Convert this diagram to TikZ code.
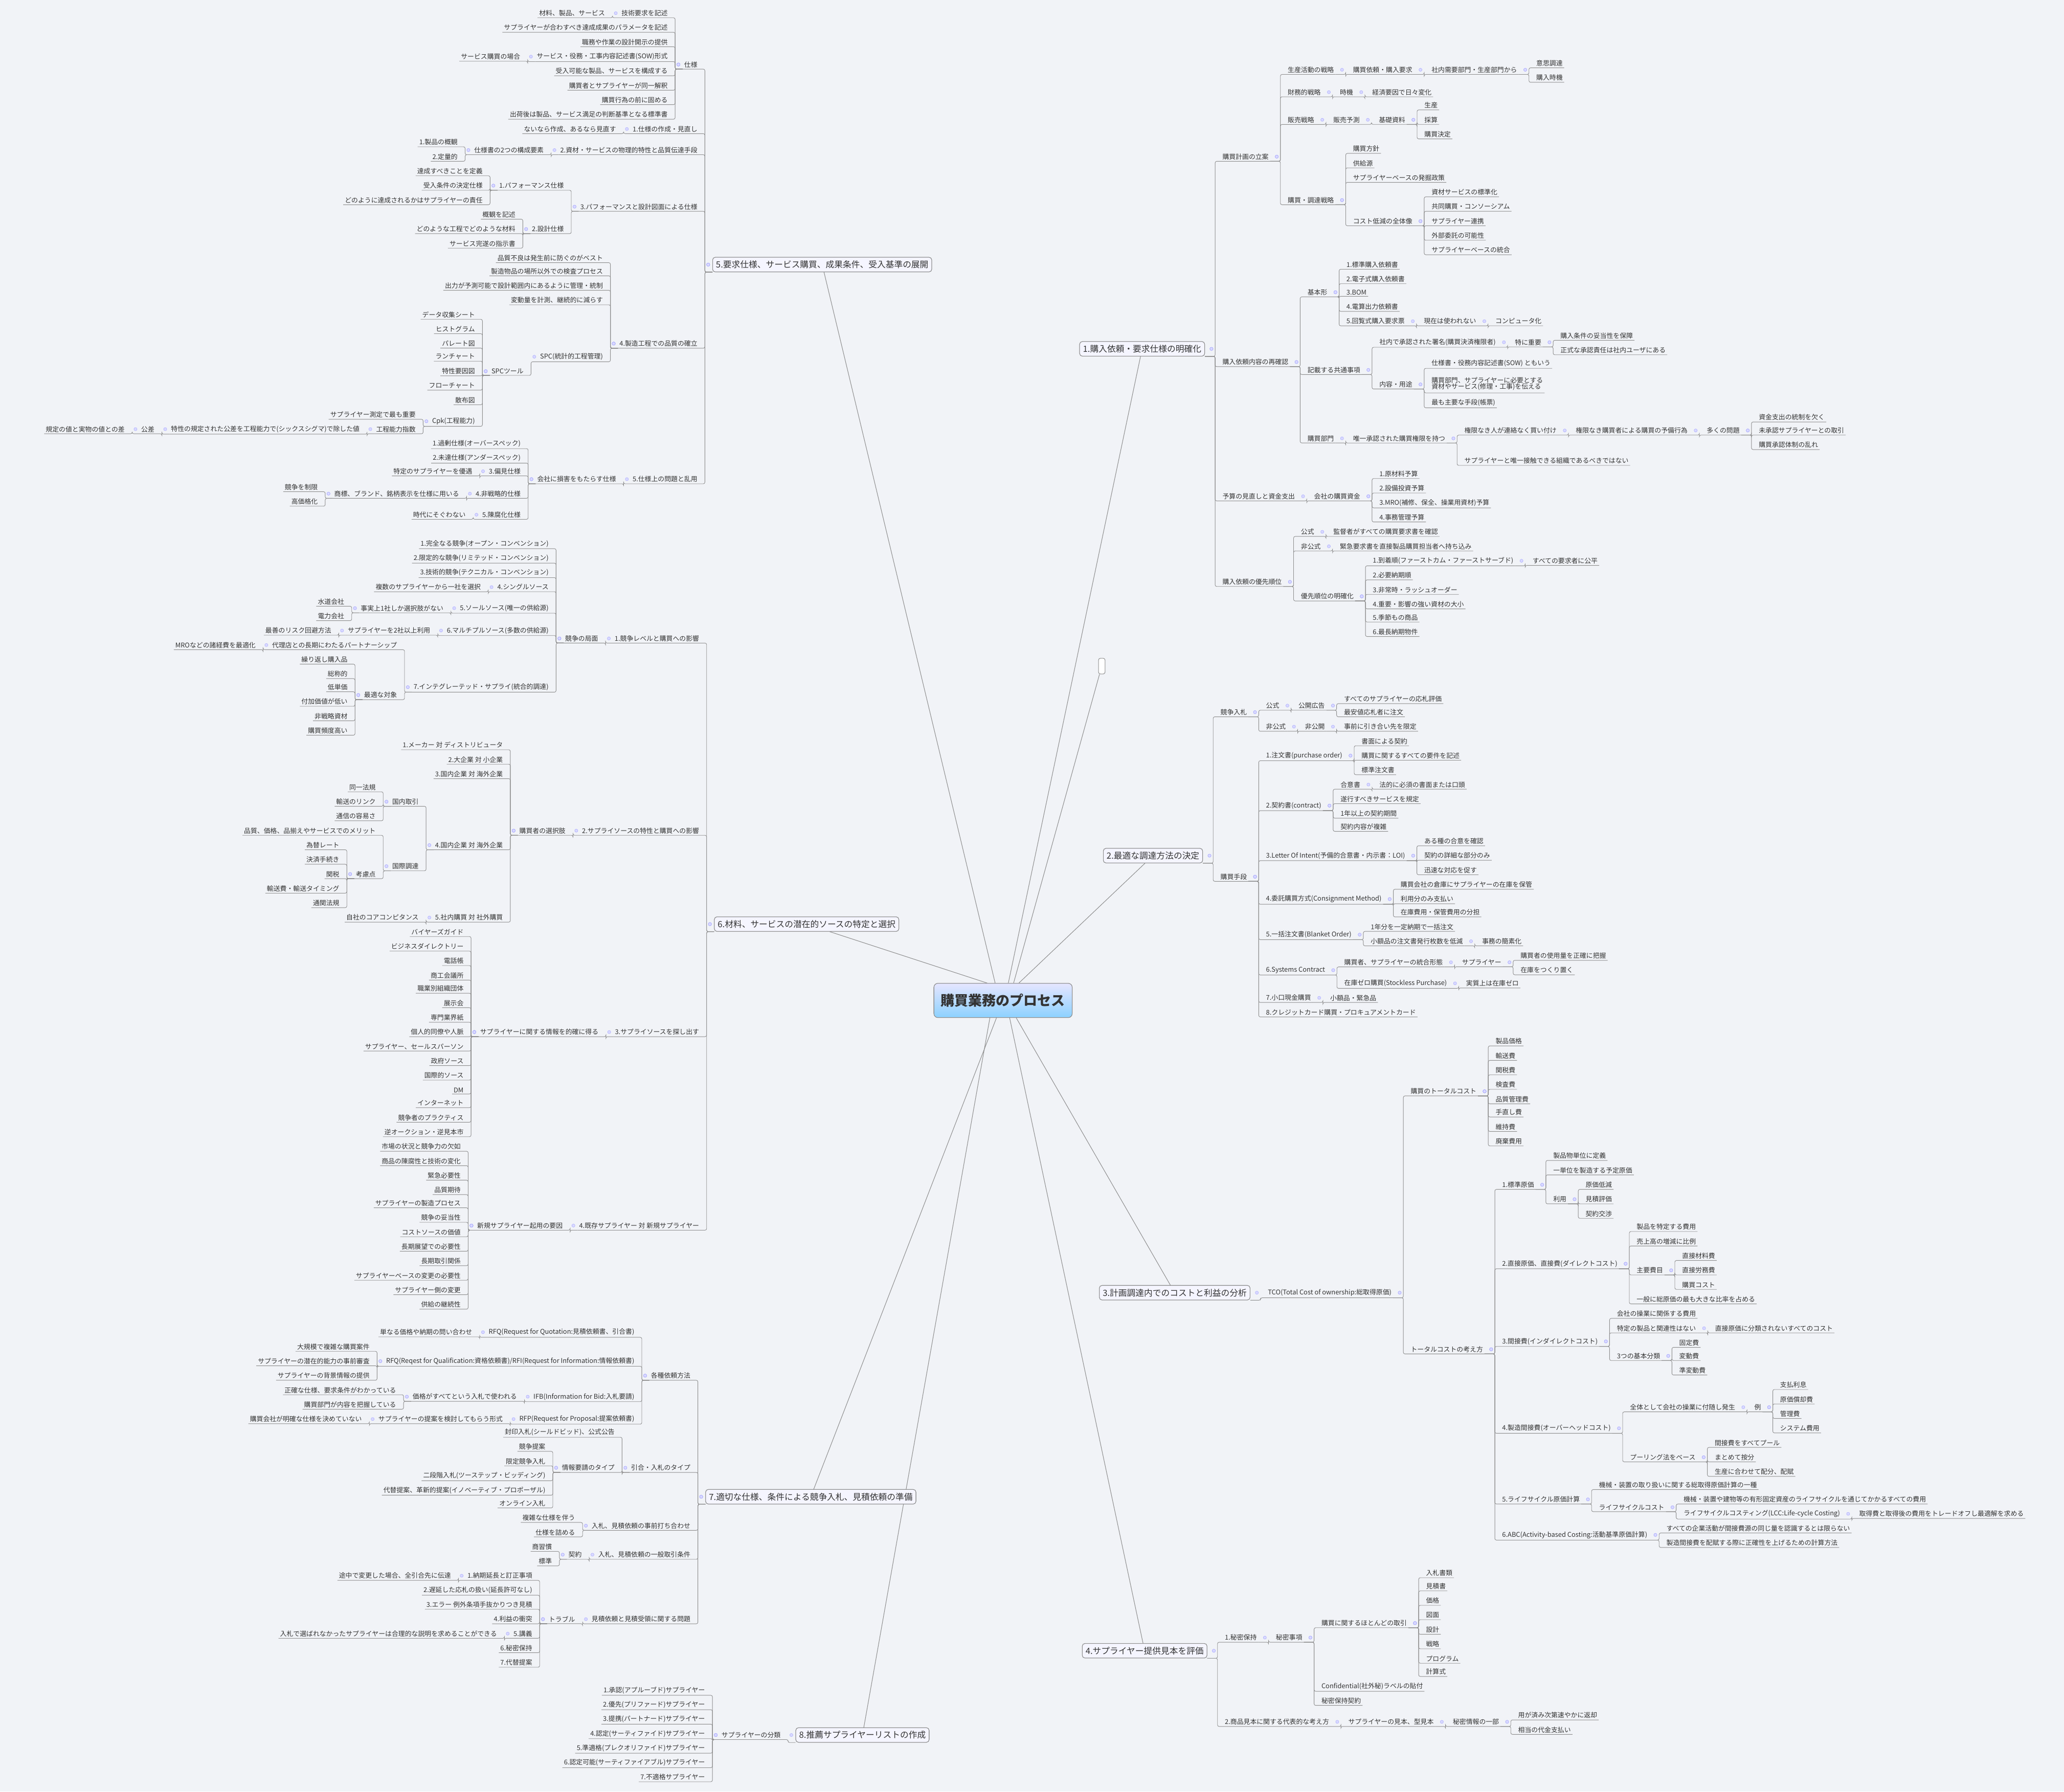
\documentclass[tikz,border=0pt]{standalone}
\usepackage{fontspec}
\setmainfont{Noto Sans CJK JP}
\usetikzlibrary{calc}
\definecolor{bgc}{HTML}{F1F3F7}
\definecolor{lnc}{HTML}{8C8C8C}
\definecolor{txc}{HTML}{333333}
\tikzset{
 nd/.style={inner xsep=1pt,inner ysep=1pt,font=\fontsize{5}{6}\selectfont,text=txc},
 cn/.style={draw=lnc,line width=0.35pt,rounded corners=1.2pt},
 icn/.style={fill=blue!15,draw=blue!35,line width=0.2pt},
 br/.style={draw=lnc,rounded corners=2pt,fill=white!96!blue,inner sep=2.5pt,font=\fontsize{6.5}{7.5}\selectfont,text=txc},
 mainl/.style={draw=lnc,line width=0.4pt}
}
\newcommand\RX[4]{%
 \coordinate (tmpY) at (0,#3);
 \path (#1.east) ++(12.2,0) coordinate (tmpA);
 \node[nd,anchor=west] (#2) at (tmpA |- tmpY) {#4};
 \path (#1.south east) ++(7.8,0) coordinate (tmpB);
 \draw[cn] (#2.south east) -- (#2.south west) -- (#2.south west -| tmpB) -- (tmpB) -- (#1.south east);
 \filldraw[icn] ($(#1.east)+(5,0)$) circle (1.2pt);}
\newcommand\LX[4]{%
 \coordinate (tmpY) at (0,#3);
 \path (#1.west) ++(-10.2,0) coordinate (tmpA);
 \node[nd,anchor=east] (#2) at (tmpA |- tmpY) {#4};
 \path (#1.south west) ++(-5.7,0) coordinate (tmpB);
 \draw[cn] (#2.south west) -- (#2.south east) -- (#2.south east -| tmpB) -- (tmpB) -- (#1.south west);
 \filldraw[icn] ($(#1.west)+(-3.2,0)$) circle (1.2pt);}
\begin{document}
\begin{tikzpicture}[x=1pt,y=-1pt]
\fill[bgc] (0,0) rectangle (1568,1361);
\useasboundingbox (0,0) rectangle (1568,1361);
% root
\node[draw=lnc,rounded corners=3pt,top color=blue!10,bottom color=blue!40!cyan!45,minimum width=105pt,minimum height=26pt,font=\fontsize{10.5}{12}\selectfont\bfseries,text=txc] (root) at (762,760) {購買業務のプロセス};
% main branches
\node[br,anchor=west] (b1) at (820,265) {1.購入依頼・要求仕様の明確化};
\node[draw=lnc,rounded corners=1.5pt,fill=white,minimum width=5pt,minimum height=12pt,inner sep=0pt] (be) at (837,506) {};
\node[br,anchor=west] (b2) at (838,650) {2.最適な調達方法の決定};
\node[br,anchor=west] (b3) at (835,982) {3.計画調達内でのコストと利益の分析};
\node[br,anchor=west] (b4) at (822,1254) {4.サプライヤー提供見本を評価};
\node[br,anchor=east] (b5) at (708,201) {5.要求仕様、サービス購買、成果条件、受入基準の展開};
\node[br,anchor=east] (b6) at (683,702) {6.材料、サービスの潜在的ソースの特定と選択};
\node[br,anchor=east] (b7) at (696,1137) {7.適切な仕様、条件による競争入札、見積依頼の準備};
\node[br,anchor=east] (b8) at (706,1318) {8.推薦サプライヤーリストの作成};
\foreach \b/\s in {b1/4,be/8,b2/12,b5/-6,b6/-12}{\draw[mainl] ($(root.north)+(\s,0)$) -- (\b);}
\foreach \b/\s in {b3/10,b4/5,b7/-5,b8/-10}{\draw[mainl] ($(root.south)+(\s,0)$) -- (\b);}
\node[draw=lnc,rounded corners=3pt,top color=blue!10,bottom color=blue!40!cyan!45,minimum width=105pt,minimum height=26pt,font=\fontsize{10.5}{12}\selectfont\bfseries,text=txc] at (762,760) {購買業務のプロセス};
\node[br,anchor=west] at (820,265) {1.購入依頼・要求仕様の明確化};
\node[br,anchor=west] at (838,650) {2.最適な調達方法の決定};
\node[br,anchor=west] at (835,982) {3.計画調達内でのコストと利益の分析};
\node[br,anchor=west] at (822,1254) {4.サプライヤー提供見本を評価};
\node[br,anchor=east] at (708,201) {5.要求仕様、サービス購買、成果条件、受入基準の展開};
\node[br,anchor=east] at (683,702) {6.材料、サービスの潜在的ソースの特定と選択};
\node[br,anchor=east] at (696,1137) {7.適切な仕様、条件による競争入札、見積依頼の準備};
\node[br,anchor=east] at (706,1318) {8.推薦サプライヤーリストの作成};
%% ===== Branch 1
\RX{b1}{p1}{119}{購買計画の立案}
\RX{p1}{p11}{53}{生産活動の戦略}
\RX{p11}{p111}{53}{購買依頼・購入要求}
\RX{p111}{p1111}{53}{社内需要部門・生産部門から}
\RX{p1111}{lf}{48}{意思調達}
\RX{p1111}{lf}{59}{購入時機}
\RX{p1}{p12}{70}{財務的戦略}
\RX{p12}{p121}{70}{時機}
\RX{p121}{lf}{70}{経済要因で日々変化}
\RX{p1}{p13}{91}{販売戦略}
\RX{p13}{p131}{91}{販売予測}
\RX{p131}{p1311}{91}{基礎資料}
\RX{p1311}{lf}{80}{生産}
\RX{p1311}{lf}{91}{採算}
\RX{p1311}{lf}{102}{購買決定}
\RX{p1}{p14}{152}{購買・調達戦略}
\RX{p14}{lf}{113}{購買方針}
\RX{p14}{lf}{124}{供給源}
\RX{p14}{lf}{135}{サプライヤーベースの発掘政策}
\RX{p14}{p141}{168}{コスト低減の全体像}
\RX{p141}{lf}{146}{資材サービスの標準化}
\RX{p141}{lf}{157}{共同購買・コンソーシアム}
\RX{p141}{lf}{168}{サプライヤー連携}
\RX{p141}{lf}{179}{外部委託の可能性}
\RX{p141}{lf}{190}{サプライヤーベースの統合}
\RX{b1}{p2}{275}{購入依頼内容の再確認}
\RX{p2}{p21}{222}{基本形}
\RX{p21}{lf}{201}{1.標準購入依頼書}
\RX{p21}{lf}{212}{2.電子式購入依頼書}
\RX{p21}{lf}{222}{3.BOM}
\RX{p21}{lf}{233}{4.電算出力依頼書}
\RX{p21}{p215}{244}{5.回覧式購入要求票}
\RX{p215}{p2151}{244}{現在は使われない}
\RX{p2151}{lf}{244}{コンピュータ化}
\RX{p2}{p22}{281}{記載する共通事項}
\RX{p22}{p221}{260}{社内で承認された署名(購買決済権限者)}
\RX{p221}{p2211}{260}{特に重要}
\RX{p2211}{lf}{255}{購入条件の妥当性を保障}
\RX{p2211}{lf}{266}{正式な承認責任は社内ユーザにある}
\RX{p22}{p222}{292}{内容・用途}
\RX{p222}{lf}{276}{仕様書・役務内容記述書(SOW) ともいう}
\RX{p222}{lf}{292}{\begin{tabular}{@{}l@{}}購買部門、サプライヤーに必要とする\\[-1.5pt]資材やサービス(修理・工事)を伝える\end{tabular}}
\RX{p222}{lf}{306}{最も主要な手段(帳票)}
\RX{p2}{p23}{333}{購買部門}
\RX{p23}{p231}{333}{唯一承認された購買権限を持つ}
\RX{p231}{p2311}{327}{権限なき人が連絡なく買い付け}
\RX{p2311}{p23111}{327}{権限なき購買者による購買の予備行為}
\RX{p23111}{p231111}{327}{多くの問題}
\RX{p231111}{lf}{317}{資金支出の統制を欠く}
\RX{p231111}{lf}{327}{未承認サプライヤーとの取引}
\RX{p231111}{lf}{338}{購買承認体制の乱れ}
\RX{p231}{lf}{350}{サプライヤーと唯一接触できる組織であるべきではない}
\RX{b1}{p3}{377}{予算の見直しと資金支出}
\RX{p3}{p31}{377}{会社の購買資金}
\RX{p31}{lf}{360}{1.原材料予算}
\RX{p31}{lf}{371}{2.設備投資予算}
\RX{p31}{lf}{382}{3.MRO(補修、保全、操業用資材)予算}
\RX{p31}{lf}{393}{4.事務管理予算}
\RX{b1}{p4}{442}{購入依頼の優先順位}
\RX{p4}{p41}{404}{公式}
\RX{p41}{lf}{404}{監督者がすべての購買要求書を確認}
\RX{p4}{p42}{415}{非公式}
\RX{p42}{lf}{415}{緊急要求書を直接製品購買担当者へ持ち込み}
\RX{p4}{p43}{453}{優先順位の明確化}
\RX{p43}{p431}{426}{1.到着順(ファーストカム・ファーストサーブド)}
\RX{p431}{lf}{426}{すべての要求者に公平}
\RX{p43}{lf}{437}{2.必要納期順}
\RX{p43}{lf}{448}{3.非常時・ラッシュオーダー}
\RX{p43}{lf}{459}{4.重要・影響の強い資材の大小}
\RX{p43}{lf}{469}{5.季節もの商品}
\RX{p43}{lf}{480}{6.最長納期物件}
%% ===== Branch 2
\RX{b2}{q1}{541}{競争入札}
\RX{q1}{q11}{536}{公式}
\RX{q11}{q111}{536}{公開広告}
\RX{q111}{lf}{531}{すべてのサプライヤーの応札評価}
\RX{q111}{lf}{541}{最安値応札者に注文}
\RX{q1}{q12}{552}{非公式}
\RX{q12}{q121}{552}{非公開}
\RX{q121}{lf}{552}{事前に引き合い先を限定}
\RX{b2}{q2}{666}{購買手段}
\RX{q2}{q21}{574}{1.注文書(purchase order)}
\RX{q21}{lf}{563}{書面による契約}
\RX{q21}{lf}{574}{購買に関するすべての要件を記述}
\RX{q21}{lf}{585}{標準注文書}
\RX{q2}{q22}{612}{2.契約書(contract)}
\RX{q22}{q221}{596}{合意書}
\RX{q221}{lf}{596}{法的に必須の書面または口頭}
\RX{q22}{lf}{607}{遂行すべきサービスを規定}
\RX{q22}{lf}{618}{1年以上の契約期間}
\RX{q22}{lf}{628}{契約内容が複雑}
\RX{q2}{q23}{650}{3.Letter Of Intent(予備的合意書・内示書：LOI)}
\RX{q23}{lf}{639}{ある種の合意を確認}
\RX{q23}{lf}{650}{契約の詳細な部分のみ}
\RX{q23}{lf}{661}{迅速な対応を促す}
\RX{q2}{q24}{683}{4.委託購買方式(Consignment Method)}
\RX{q24}{lf}{672}{購買会社の倉庫にサプライヤーの在庫を保管}
\RX{q24}{lf}{683}{利用分のみ支払い}
\RX{q24}{lf}{693}{在庫費用・保管費用の分担}
\RX{q2}{q25}{710}{5.一括注文書(Blanket Order)}
\RX{q25}{lf}{704}{1年分を一定納期で一括注文}
\RX{q25}{q251}{715}{小額品の注文書発行枚数を低減}
\RX{q251}{lf}{715}{事務の簡素化}
\RX{q2}{q26}{737}{6.Systems Contract}
\RX{q26}{q261}{731}{購買者、サプライヤーの統合形態}
\RX{q261}{q2611}{731}{サプライヤー}
\RX{q2611}{lf}{726}{購買者の使用量を正確に把握}
\RX{q2611}{lf}{737}{在庫をつくり置く}
\RX{q26}{q262}{747}{在庫ゼロ購買(Stockless Purchase)}
\RX{q262}{lf}{747}{実質上は在庫ゼロ}
\RX{q2}{q27}{758}{7.小口現金購買}
\RX{q27}{lf}{758}{小額品・緊急品}
\RX{q2}{lf}{769}{8.クレジットカード購買・プロキュアメントカード}
%% ===== Branch 3
\RX{b3}{r1}{982}{TCO(Total Cost of ownership:総取得原価)}
\RX{r1}{r11}{829}{購買のトータルコスト}
\RX{r11}{lf}{791}{製品価格}
\RX{r11}{lf}{802}{輸送費}
\RX{r11}{lf}{813}{関税費}
\RX{r11}{lf}{824}{検査費}
\RX{r11}{lf}{835}{品質管理費}
\RX{r11}{lf}{845}{手直し費}
\RX{r11}{lf}{856}{維持費}
\RX{r11}{lf}{867}{廃棄費用}
\RX{r1}{r12}{1025}{トータルコストの考え方}
\RX{r12}{r121}{900}{1.標準原価}
\RX{r121}{lf}{878}{製品物単位に定義}
\RX{r121}{lf}{889}{一単位を製造する予定原価}
\RX{r121}{r1211}{911}{利用}
\RX{r1211}{lf}{900}{原価低減}
\RX{r1211}{lf}{911}{見積評価}
\RX{r1211}{lf}{922}{契約交渉}
\RX{r12}{r122}{960}{2.直接原価、直接費(ダイレクトコスト)}
\RX{r122}{lf}{932}{製品を特定する費用}
\RX{r122}{lf}{943}{売上高の増減に比例}
\RX{r122}{r1221}{965}{主要費目}
\RX{r1221}{lf}{954}{直接材料費}
\RX{r1221}{lf}{965}{直接労務費}
\RX{r1221}{lf}{976}{購買コスト}
\RX{r122}{lf}{987}{一般に総原価の最も大きな比率を占める}
\RX{r12}{r123}{1019}{3.間接費(インダイレクトコスト)}
\RX{r123}{lf}{998}{会社の操業に関係する費用}
\RX{r123}{r1231}{1009}{特定の製品と関連性はない}
\RX{r1231}{lf}{1009}{直接原価に分類されないすべてのコスト}
\RX{r123}{r1232}{1030}{3つの基本分類}
\RX{r1232}{lf}{1020}{固定費}
\RX{r1232}{lf}{1030}{変動費}
\RX{r1232}{lf}{1041}{準変動費}
\RX{r12}{r124}{1085}{4.製造間接費(オーバーヘッドコスト)}
\RX{r124}{r1241}{1069}{全体として会社の操業に付随し発生}
\RX{r1241}{r12411}{1069}{例}
\RX{r12411}{lf}{1052}{支払利息}
\RX{r12411}{lf}{1063}{原価償却費}
\RX{r12411}{lf}{1074}{管理費}
\RX{r12411}{lf}{1085}{システム費用}
\RX{r124}{r1242}{1107}{プーリング法をベース}
\RX{r1242}{lf}{1096}{間接費をすべてプール}
\RX{r1242}{lf}{1107}{まとめて按分}
\RX{r1242}{lf}{1118}{生産に合わせて配分、配賦}
\RX{r12}{r125}{1139}{5.ライフサイクル原価計算}
\RX{r125}{lf}{1128}{機械・装置の取り扱いに関する総取得原価計算の一種}
\RX{r125}{r1251}{1145}{ライフサイクルコスト}
\RX{r1251}{lf}{1139}{機械・装置や建物等の有形固定資産のライフサイクルを通じてかかるすべての費用}
\RX{r1251}{r12512}{1150}{ライフサイクルコスティング(LCC:Life-cycle Costing)}
\RX{r12512}{lf}{1150}{取得費と取得後の費用をトレードオフし最適解を求める}
\RX{r12}{r126}{1166}{6.ABC(Activity-based Costing:活動基準原価計算)}
\RX{r126}{lf}{1161}{すべての企業活動が間接費源の同じ量を認識するとは限らない}
\RX{r126}{lf}{1172}{製造間接費を配賦する際に正確性を上げるための計算方法}
%% ===== Branch 4
\RX{b4}{s1}{1244}{1.秘密保持}
\RX{s1}{s11}{1244}{秘密事項}
\RX{s11}{s111}{1233}{購買に関するほとんどの取引}
\RX{s111}{lf}{1195}{入札書類}
\RX{s111}{lf}{1205}{見積書}
\RX{s111}{lf}{1216}{価格}
\RX{s111}{lf}{1227}{図面}
\RX{s111}{lf}{1238}{設計}
\RX{s111}{lf}{1249}{戦略}
\RX{s111}{lf}{1260}{プログラム}
\RX{s111}{lf}{1270}{計算式}
\RX{s11}{lf}{1281}{Confidential(社外秘)ラベルの貼付}
\RX{s11}{lf}{1292}{秘密保持契約}
\RX{b4}{s2}{1308}{2.商品見本に関する代表的な考え方}
\RX{s2}{s21}{1308}{サプライヤーの見本、型見本}
\RX{s21}{s211}{1308}{秘密情報の一部}
\RX{s211}{lf}{1303}{用が済み次第速やかに返却}
\RX{s211}{lf}{1314}{相当の代金支払い}
%% ===== Branch 5
\LX{b5}{t1}{49}{仕様}
\LX{t1}{t11}{10}{技術要求を記述}
\LX{t11}{lf}{10}{材料、製品、サービス}
\LX{t1}{lf}{21}{サプライヤーが合わすべき達成成果のパラメータを記述}
\LX{t1}{lf}{32}{職務や作業の設計開示の提供}
\LX{t1}{t12}{43}{サービス・役務・工事内容記述書(SOW)形式}
\LX{t12}{lf}{43}{サービス購買の場合}
\LX{t1}{lf}{54}{受入可能な製品、サービスを構成する}
\LX{t1}{lf}{65}{購買者とサプライヤーが同一解釈}
\LX{t1}{lf}{76}{購買行為の前に固める}
\LX{t1}{lf}{87}{出荷後は製品、サービス満足の判断基準となる標準書}
\LX{b5}{t2}{98}{1.仕様の作成・見直し}
\LX{t2}{lf}{98}{ないなら作成、あるなら見直す}
\LX{b5}{t3}{114}{2.資材・サービスの物理的特性と品質伝達手段}
\LX{t3}{t31}{114}{仕様書の2つの構成要素}
\LX{t31}{lf}{108}{1.製品の概観}
\LX{t31}{lf}{119}{2.定量的}
\LX{b5}{t4}{157}{3.パフォーマンスと設計図面による仕様}
\LX{t4}{t41}{141}{1.パフォーマンス仕様}
\LX{t41}{lf}{130}{達成すべきことを定義}
\LX{t41}{lf}{141}{受入条件の決定仕様}
\LX{t41}{lf}{152}{どのように達成されるかはサプライヤーの責任}
\LX{t4}{t42}{174}{2.設計仕様}
\LX{t42}{lf}{163}{概観を記述}
\LX{t42}{lf}{174}{どのような工程でどのような材料}
\LX{t42}{lf}{185}{サービス完遂の指示書}
\LX{b5}{t5}{261}{4.製造工程での品質の確立}
\LX{t5}{lf}{196}{品質不良は発生前に防ぐのがベスト}
\LX{t5}{lf}{206}{製造物品の場所以外での検査プロセス}
\LX{t5}{lf}{217}{出力が予測可能で設計範囲内にあるように管理・統制}
\LX{t5}{lf}{228}{変動量を計測、継続的に減らす}
\LX{t5}{t51}{271}{SPC(統計的工程管理)}
\LX{t51}{t511}{282}{SPCツール}
\LX{t511}{lf}{239}{データ収集シート}
\LX{t511}{lf}{250}{ヒストグラム}
\LX{t511}{lf}{261}{パレート図}
\LX{t511}{lf}{271}{ランチャート}
\LX{t511}{lf}{282}{特性要因図}
\LX{t511}{lf}{293}{フローチャート}
\LX{t511}{lf}{304}{散布図}
\LX{t511}{t5112}{320}{Cpk(工程能力)}
\LX{t5112}{lf}{315}{サプライヤー測定で最も重要}
\LX{t5112}{t51121}{326}{工程能力指数}
\LX{t51121}{t511211}{326}{特性の規定された公差を工程能力で(シックスシグマ)で除した値}
\LX{t511211}{t5112111}{326}{公差}
\LX{t5112111}{lf}{326}{規定の値と実物の値との差}
\LX{b5}{t6}{364}{5.仕様上の問題と乱用}
\LX{t6}{t61}{364}{会社に損害をもたらす仕様}
\LX{t61}{lf}{337}{1.過剰仕様(オーバースペック)}
\LX{t61}{lf}{348}{2.未達仕様(アンダースペック)}
\LX{t61}{t613}{358}{3.偏見仕様}
\LX{t613}{lf}{358}{特定のサプライヤーを優遇}
\LX{t61}{t614}{375}{4.非戦略的仕様}
\LX{t614}{t6141}{375}{商標、ブランド、銘柄表示を仕様に用いる}
\LX{t6141}{lf}{370}{競争を制限}
\LX{t6141}{lf}{381}{高価格化}
\LX{t61}{t615}{391}{5.陳腐化仕様}
\LX{t615}{lf}{391}{時代にそぐわない}
%% ===== Branch 6
\LX{b6}{u1}{485}{1.競争レベルと購買への影響}
\LX{u1}{u11}{485}{競争の局面}
\LX{u11}{lf}{413}{1.完全なる競争(オープン・コンベンション)}
\LX{u11}{lf}{424}{2.限定的な競争(リミテッド・コンベンション)}
\LX{u11}{lf}{435}{3.技術的競争(テクニカル・コンベンション)}
\LX{u11}{u114}{446}{4.シングルソース}
\LX{u114}{lf}{446}{複数のサプライヤーから一社を選択}
\LX{u11}{u115}{462}{5.ソールソース(唯一の供給源)}
\LX{u115}{u1151}{462}{事実上1社しか選択肢がない}
\LX{u1151}{lf}{457}{水道会社}
\LX{u1151}{lf}{468}{電力会社}
\LX{u11}{u116}{479}{6.マルチプルソース(多数の供給源)}
\LX{u116}{u1161}{479}{サプライヤーを2社以上利用}
\LX{u1161}{lf}{479}{最善のリスク回避方法}
\LX{u11}{u117}{522}{7.インテグレーテッド・サプライ(統合的調達)}
\LX{u117}{u1171}{490}{代理店との長期にわたるパートナーシップ}
\LX{u1171}{lf}{490}{MROなどの諸経費を最適化}
\LX{u117}{u1172}{528}{最適な対象}
\LX{u1172}{lf}{501}{繰り返し購入品}
\LX{u1172}{lf}{512}{総称的}
\LX{u1172}{lf}{522}{低単価}
\LX{u1172}{lf}{533}{付加価値が低い}
\LX{u1172}{lf}{544}{非戦略資材}
\LX{u1172}{lf}{555}{購買頻度高い}
\LX{b6}{u2}{631}{2.サプライソースの特性と購買への影響}
\LX{u2}{u21}{631}{購買者の選択肢}
\LX{u21}{lf}{566}{1.メーカー 対 ディストリビュータ}
\LX{u21}{lf}{577}{2.大企業 対 小企業}
\LX{u21}{lf}{588}{3.国内企業 対 海外企業}
\LX{u21}{u214}{642}{4.国内企業 対 海外企業}
\LX{u214}{u2141}{609}{国内取引}
\LX{u2141}{lf}{598}{同一法規}
\LX{u2141}{lf}{609}{輸送のリンク}
\LX{u2141}{lf}{620}{通信の容易さ}
\LX{u214}{u2142}{658}{国際調達}
\LX{u2142}{lf}{631}{品質、価格、品揃えやサービスでのメリット}
\LX{u2142}{u21421}{664}{考慮点}
\LX{u21421}{lf}{642}{為替レート}
\LX{u21421}{lf}{653}{決済手続き}
\LX{u21421}{lf}{664}{関税}
\LX{u21421}{lf}{675}{輸送費・輸送タイミング}
\LX{u21421}{lf}{686}{通関法規}
\LX{u21}{u215}{697}{5.社内購買 対 社外購買}
\LX{u215}{lf}{697}{自社のコアコンピタンス}
\LX{b6}{u3}{784}{3.サプライソースを探し出す}
\LX{u3}{u31}{784}{サプライヤーに関する情報を的確に得る}
\LX{u31}{lf}{708}{バイヤーズガイド}
\LX{u31}{lf}{719}{ビジネスダイレクトリー}
\LX{u31}{lf}{730}{電話帳}
\LX{u31}{lf}{741}{商工会議所}
\LX{u31}{lf}{751}{職業別組織団体}
\LX{u31}{lf}{762}{展示会}
\LX{u31}{lf}{773}{専門業界紙}
\LX{u31}{lf}{784}{個人的同僚や人脈}
\LX{u31}{lf}{795}{サプライヤー、セールスパーソン}
\LX{u31}{lf}{806}{政府ソース}
\LX{u31}{lf}{817}{国際的ソース}
\LX{u31}{lf}{828}{DM}
\LX{u31}{lf}{838}{インターネット}
\LX{u31}{lf}{849}{競争者のプラクティス}
\LX{u31}{lf}{860}{逆オークション・逆見本市}
\LX{b6}{u4}{931}{4.既存サプライヤー 対 新規サプライヤー}
\LX{u4}{u41}{931}{新規サプライヤー起用の要因}
\LX{u41}{lf}{871}{市場の状況と競争力の欠如}
\LX{u41}{lf}{882}{商品の陳腐性と技術の変化}
\LX{u41}{lf}{893}{緊急必要性}
\LX{u41}{lf}{904}{品質期待}
\LX{u41}{lf}{914}{サプライヤーの製造プロセス}
\LX{u41}{lf}{925}{競争の妥当性}
\LX{u41}{lf}{936}{コストソースの価値}
\LX{u41}{lf}{947}{長期展望での必要性}
\LX{u41}{lf}{958}{長期取引関係}
\LX{u41}{lf}{969}{サプライヤーベースの変更の必要性}
\LX{u41}{lf}{980}{サプライヤー側の変更}
\LX{u41}{lf}{991}{供給の継続性}
%% ===== Branch 7
\LX{b7}{v1}{1045}{各種依頼方法}
\LX{v1}{v11}{1012}{RFQ(Request for Quotation:見積依頼書、引合書)}
\LX{v11}{lf}{1012}{単なる価格や納期の問い合わせ}
\LX{v1}{v12}{1034}{RFQ(Reqest for Qualification:資格依頼書)/RFI(Request for Information:情報依頼書)}
\LX{v12}{lf}{1023}{大規模で複雑な購買案件}
\LX{v12}{lf}{1034}{サプライヤーの潜在的能力の事前審査}
\LX{v12}{lf}{1045}{サプライヤーの背景情報の提供}
\LX{v1}{v13}{1061}{IFB(Information for Bid:入札要請)}
\LX{v13}{v131}{1061}{価格がすべてという入札で使われる}
\LX{v131}{lf}{1056}{正確な仕様、要求条件がわかっている}
\LX{v131}{lf}{1067}{購買部門が内容を把握している}
\LX{v1}{v14}{1078}{RFP(Request for Proposal:提案依頼書)}
\LX{v14}{v141}{1078}{サプライヤーの提案を検討してもらう形式}
\LX{v141}{lf}{1078}{購買会社が明確な仕様を決めていない}
\LX{b7}{v2}{1115}{引合・入札のタイプ}
\LX{v2}{lf}{1088}{封印入札(シールドビッド)、公式公告}
\LX{v2}{v21}{1115}{情報要請のタイプ}
\LX{v21}{lf}{1099}{競争提案}
\LX{v21}{lf}{1110}{限定競争入札}
\LX{v21}{lf}{1121}{二段階入札(ツーステップ・ビッディング)}
\LX{v21}{lf}{1132}{代替提案、革新的提案(イノベーティブ・プロポーザル)}
\LX{v21}{lf}{1142}{オンライン入札}
\LX{b7}{v3}{1159}{入札、見積依頼の事前打ち合わせ}
\LX{v3}{lf}{1153}{複雑な仕様を伴う}
\LX{v3}{lf}{1164}{仕様を詰める}
\LX{b7}{v4}{1181}{入札、見積依頼の一般取引条件}
\LX{v4}{v41}{1181}{契約}
\LX{v41}{lf}{1175}{商習慣}
\LX{v41}{lf}{1186}{標準}
\LX{b7}{v5}{1230}{見積依頼と見積受領に関する問題}
\LX{v5}{v51}{1230}{トラブル}
\LX{v51}{v511}{1197}{1.納期延長と訂正事項}
\LX{v511}{lf}{1197}{途中で変更した場合、全引合先に伝達}
\LX{v51}{lf}{1208}{2.遅延した応札の扱い(延長許可なし)}
\LX{v51}{lf}{1219}{3.エラー 例外条項手抜かりつき見積}
\LX{v51}{lf}{1230}{4.利益の衝突}
\LX{v51}{v515}{1241}{5.講義}
\LX{v515}{lf}{1241}{入札で選ばれなかったサプライヤーは合理的な説明を求めることができる}
\LX{v51}{lf}{1252}{6.秘密保持}
\LX{v51}{lf}{1263}{7.代替提案}
%% ===== Branch 8
\LX{b8}{w1}{1318}{サプライヤーの分類}
\LX{w1}{lf}{1284}{1.承認(アプルーブド)サプライヤー}
\LX{w1}{lf}{1295}{2.優先(プリファード)サプライヤー}
\LX{w1}{lf}{1306}{3.提携(パートナード)サプライヤー}
\LX{w1}{lf}{1317}{4.認定(サーティファイド)サプライヤー}
\LX{w1}{lf}{1328}{5.準適格(プレクオリファイド)サプライヤー}
\LX{w1}{lf}{1339}{6.認定可能(サーティファイアブル)サプライヤー}
\LX{w1}{lf}{1350}{7.不適格サプライヤー}
\end{tikzpicture}
\end{document}
